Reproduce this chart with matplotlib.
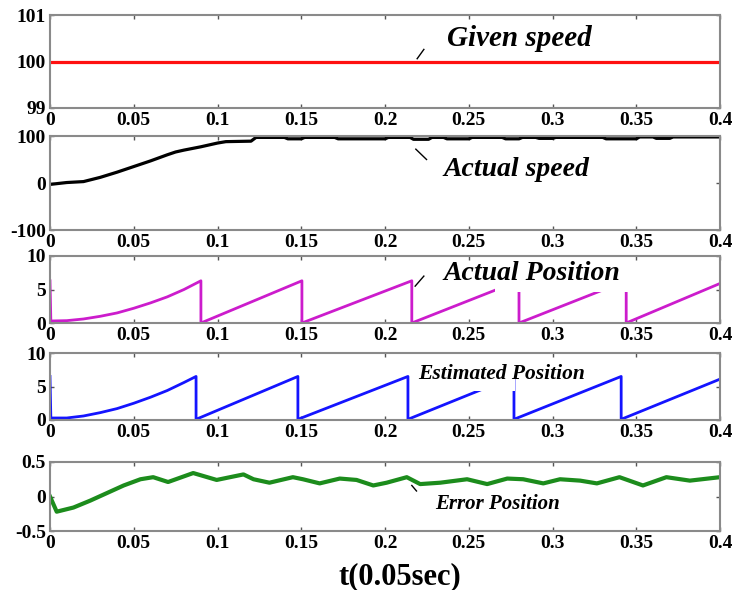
import matplotlib
matplotlib.use("Agg")
import matplotlib.pyplot as plt
from matplotlib.patches import Rectangle

plt.rcParams['font.family'] = ['Liberation Serif', 'DejaVu Serif']
plt.rcParams['font.weight'] = 'bold'
plt.rcParams['axes.unicode_minus'] = False

# ---- data ----
x_ticks = [0, 0.05, 0.1, 0.15, 0.2, 0.25, 0.3, 0.35, 0.4]
x_tick_labels = ['0', '0.05', '0.1', '0.15', '0.2', '0.25', '0.3', '0.35', '0.4']

given_t = [0, 0.4]
given_speed = [100, 100]

speed_t = [0, 0.005, 0.01, 0.02, 0.03, 0.04, 0.05, 0.06, 0.07, 0.075, 0.08,
           0.09, 0.1, 0.105, 0.12, 0.123, 0.14, 0.142, 0.15, 0.152, 0.17,
           0.172, 0.2, 0.202, 0.215, 0.217, 0.226, 0.228, 0.235, 0.237,
           0.25, 0.252, 0.27, 0.272, 0.28, 0.282, 0.29, 0.292, 0.3, 0.302,
           0.33, 0.332, 0.35, 0.352, 0.36, 0.362, 0.37, 0.372, 0.4]
actual_speed = [-3, -1, 1, 3, 12, 23, 35, 47, 60, 66, 70,
                77, 85, 88, 89, 97, 97, 94, 94, 97, 97,
                94, 94, 97, 97, 93, 93, 97, 97, 94,
                94, 97, 97, 94, 94, 97, 97, 95, 95, 97,
                97, 94, 94, 98, 98, 95, 95, 98, 98]

act_pos_t = [0, 0.0005, 0.01, 0.02, 0.03, 0.04, 0.05, 0.06, 0.07, 0.08,
             0.0901, 0.0901, 0.1504, 0.1504, 0.216, 0.216, 0.280, 0.280,
             0.344, 0.344, 0.4]
act_pos = [6.3, 0.3, 0.35, 0.6, 1.0, 1.5, 2.2, 3.0, 3.9, 5.0,
           6.3, 0.0, 6.3, 0.0, 6.3, 0.0, 6.3, 0.0,
           6.3, 0.0, 5.9]

est_pos_t = [0, 0.0005, 0.01, 0.02, 0.03, 0.04, 0.05, 0.06, 0.07, 0.08,
             0.0872, 0.0872, 0.148, 0.148, 0.2137, 0.2137, 0.277, 0.277,
             0.341, 0.341, 0.4]
est_pos = [6.5, 0.3, 0.3, 0.6, 1.1, 1.7, 2.5, 3.4, 4.4, 5.6,
           6.5, 0.1, 6.5, 0.1, 6.5, 0.1, 6.5, 0.1,
           6.5, 0.1, 6.1]

err_t = [0, 0.004, 0.014, 0.024, 0.034, 0.044, 0.054, 0.0616, 0.0705,
         0.0855, 0.0995, 0.1155, 0.1215, 0.131, 0.145, 0.151, 0.161, 0.173,
         0.183, 0.193, 0.201, 0.213, 0.221, 0.233, 0.249, 0.261, 0.273,
         0.2825, 0.2945, 0.3045, 0.3165, 0.3265, 0.340, 0.354, 0.368,
         0.382, 0.4]
err_pos = [0, -0.22, -0.16, -0.06, 0.05, 0.16, 0.25, 0.28, 0.21,
           0.34, 0.24, 0.32, 0.25, 0.20, 0.28, 0.25, 0.19, 0.26,
           0.24, 0.16, 0.20, 0.28, 0.18, 0.20, 0.25, 0.18, 0.26,
           0.25, 0.19, 0.25, 0.23, 0.19, 0.28, 0.16, 0.28,
           0.23, 0.28]

W, H = 733, 590
fig = plt.figure(figsize=(W / 100, H / 100), dpi=100)


def make_axes(top, bottom):
    # pixel rows of the frame -> figure fraction
    left, right = 50, 720
    return fig.add_axes([left / W, 1 - bottom / H, (right - left) / W, (bottom - top) / H])


def style(ax, yticks, ylabels):
    ax.set_xlim(0, 0.4)
    ax.set_xticks(x_ticks)
    ax.set_xticklabels(x_tick_labels)
    ax.set_ylim(yticks[0], yticks[-1])
    ax.set_yticks(yticks)
    ax.set_yticklabels(ylabels)
    for s in ax.spines.values():
        s.set_color('#8a8a8a')
        s.set_linewidth(1.5)
    ax.tick_params(direction='in', top=True, right=True, length=3, width=1,
                   color='#555555', labelsize=14, pad=3)


def slash(ax, x0, y0, x1, y1):
    ax.plot([x0, x1], [y0, y1], color='black', lw=1, transform=ax.transAxes, zorder=5)


ax1 = make_axes(15, 108)
ax1.plot(given_t, given_speed, color='#ff1010', lw=2.3)
style(ax1, [99, 100, 101], ['99', '100', '101'])
ax1.text(0.592, 0.75, 'Given speed', transform=ax1.transAxes, fontsize=21,
         style='italic', va='center')
slash(ax1, 0.548, 0.53, 0.558, 0.63)

ax2 = make_axes(136, 230)
ax2.plot(speed_t, actual_speed, color='black', lw=2.3)
style(ax2, [-100, 0, 100], ['-100', '0', '100'])
ax2.text(0.587, 0.64, 'Actual speed', transform=ax2.transAxes, fontsize=20,
         style='italic', va='center')
slash(ax2, 0.546, 0.86, 0.562, 0.75)

ax3 = make_axes(256, 323)
ax3.plot(act_pos_t, act_pos, color='#cc1ccc', lw=2)
style(ax3, [0, 5, 10], ['0', '5', '10'])
ax3.add_patch(Rectangle((0.664, 0.46), 0.2, 0.53, transform=ax3.transAxes,
                        facecolor='white', edgecolor='none', zorder=2.2))
ax3.text(0.587, 0.74, 'Actual Position', transform=ax3.transAxes, fontsize=20,
         style='italic', va='center', zorder=6)
slash(ax3, 0.545, 0.55, 0.558, 0.70)

ax4 = make_axes(353, 420)
ax4.plot(est_pos_t, est_pos, color='#1414ff', lw=2)
style(ax4, [0, 5, 10], ['0', '5', '10'])
ax4.add_patch(Rectangle((0.545, 0.43), 0.149, 0.55, transform=ax4.transAxes,
                        facecolor='white', edgecolor='none', zorder=2.2))
ax4.text(0.549, 0.68, 'Estimated Position', transform=ax4.transAxes, fontsize=15.5,
         style='italic', va='center', zorder=6)

ax5 = make_axes(462, 531)
ax5.plot(err_t, err_pos, color='#1c8c1c', lw=3)
style(ax5, [-0.5, 0, 0.5], ['-0.5', '0', '0.5'])
ax5.text(0.575, 0.39, 'Error Position', transform=ax5.transAxes, fontsize=15,
         style='italic', va='center')
slash(ax5, 0.540, 0.66, 0.547, 0.58)

fig.text(400 / W, 1 - 577 / H, 't(0.05sec)', fontsize=22, ha='center', va='center')

fig.savefig('out.png', dpi=100)
